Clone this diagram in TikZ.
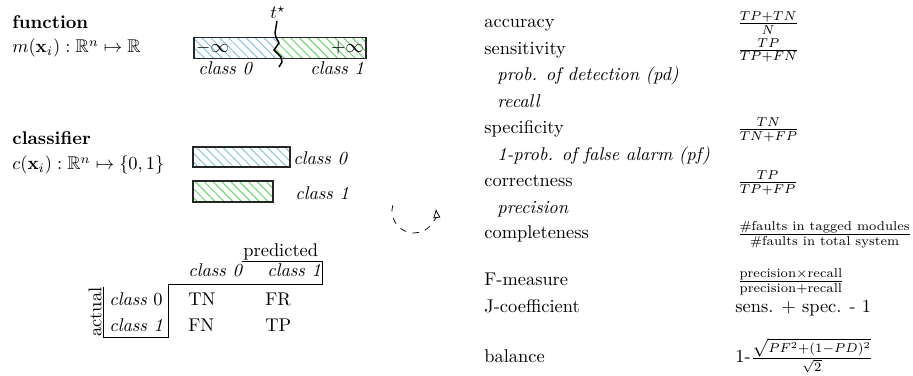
\documentclass[tikz,border=0pt]{standalone}
\usepackage{amsmath,amssymb}
\usetikzlibrary{patterns.meta,arrows.meta}
\definecolor{hatchblue}{RGB}{140,195,225}
\definecolor{hatchgreen}{RGB}{100,215,100}
\begin{document}
\begin{tikzpicture}[x=.543pt,y=-.543pt,
  lbl/.style={anchor=base west,inner sep=0pt},
  sub/.style={anchor=base west,inner sep=0pt,font=\itshape},
  blueh/.style={pattern={Lines[angle=-45,distance=3.4pt,line width=.55pt]},pattern color=hatchblue},
  greenh/.style={pattern={Lines[angle=-45,distance=3.4pt,line width=.55pt]},pattern color=hatchgreen},
  barbox/.style={draw=black!85,thick}]
\useasboundingbox (0,0) rectangle (913,376);
% function
\node[lbl,font=\bfseries] (funtitle) at (12,29) {function};
\node[lbl] (funmap) at (12,53) {$m(\mathbf{x}_i):\mathbb{R}^n\mapsto\mathbb{R}$};
\path[blueh] (194,37.3) -- (276,37.3) -- (279,43) -- (274,50) -- (281,57) -- (281.5,58.3) -- (194,58.3) -- cycle;
\path[greenh] (276,37.3) -- (366,37.3) -- (366,58.3) -- (281.5,58.3) -- (281,57) -- (274,50) -- (279,43) -- cycle;
\draw[barbox] (194,37.3) rectangle (366,58.3);
\node[anchor=west,inner sep=1pt] (minf) at (194,47.8) {$-\infty$};
\node[anchor=east,inner sep=1pt] (pinf) at (366,47.8) {$+\infty$};
\node[lbl] (tstar) at (270,19) {$t^\star$};
\draw[thick] (277,21) -- (275,33) -- (276,37.3) -- (279,43) -- (274,50) -- (281,57) -- (282,62) -- (279,67);
\node[sub] (fc0) at (198,75) {class 0};
\node[sub] (fc1) at (310,75) {class 1};
% classifier
\node[lbl,font=\bfseries] (clstitle) at (12,145) {classifier};
\node[lbl] (clsmap) at (12,170) {$c(\mathbf{x}_i):\mathbb{R}^n\mapsto\{0,1\}$};
\draw[barbox,blueh] (193,147) rectangle (290,167);
\draw[barbox,greenh] (193,181) rectangle (273,202);
\node[sub] (cc0) at (293,165) {class 0};
\node[sub] (cc1) at (295,200) {class 1};
% confusion matrix
\node[lbl] (pred) at (243,257) {predicted};
\node[sub] (hc0) at (188,277) {class 0};
\node[sub] (hc1) at (267,277) {class 1};
\node[rotate=90,anchor=south,inner sep=0pt] (act) at (102,312) {actual};
\node[lbl] (rc0) at (109,306) {\textit{class} 0};
\node[sub] (rc1) at (109,332) {class 1};
\node[lbl] (tn) at (188,306) {TN};
\node[lbl] (fr) at (265,306) {FR};
\node[lbl] (fn) at (188,332) {FN};
\node[lbl] (tp) at (265,332) {TP};
\draw (242,261) -- (322,261) -- (322,284) -- (168,284) -- (168,337) -- (103,337) -- (103,287);
% loop
\coordinate (loopc) at (414,211);
\draw[dash pattern=on 3.5pt off 3.5pt,-{Latex[open,length=5pt,width=4pt]}] (loopc) ++(195:22) arc[start angle=195,end angle=-6,radius=22];
% measures
\node[lbl] (acc) at (484,28) {accuracy};
\node[lbl] (sens) at (484,54.5) {sensitivity};
\node[sub] (pd) at (497,81) {prob. of detection (pd)};
\node[sub] (rec) at (497,107.5) {recall};
\node[lbl] (spec) at (484,134) {specificity};
\node[sub] (pf) at (497,160.5) {1-prob. of false alarm (pf)};
\node[lbl] (corr) at (484,187) {correctness};
\node[sub] (prec) at (497,213.5) {precision};
\node[lbl] (comp) at (484,239) {completeness};
\node[lbl] (fmeas) at (484,286) {F-measure};
\node[lbl] (jcoef) at (484,313) {J-coefficient};
\node[lbl] (bal) at (484,363) {balance};
\node[lbl] (accf) at (737,28) {$\frac{TP+TN}{N}$};
\node[lbl] (sensf) at (737,54.5) {$\frac{TP}{TP+FN}$};
\node[lbl] (specf) at (737,134) {$\frac{TN}{TN+FP}$};
\node[lbl] (corrf) at (737,187) {$\frac{TP}{TP+FP}$};
\node[lbl] (compf) at (737,239) {$\frac{\#\text{faults in tagged modules}}{\#\text{faults in total system}}$};
\node[lbl] (fmeasf) at (737,286) {$\frac{\text{precision}\times\text{recall}}{\text{precision}+\text{recall}}$};
\node[lbl] (jcoeff) at (735,313) {sens. $+$ spec. - 1};
\node[lbl] (balf) at (735,363) {1-$\frac{\sqrt{PF^2+(1-PD)^2}}{\sqrt{2}}$};
\end{tikzpicture}
\end{document}
